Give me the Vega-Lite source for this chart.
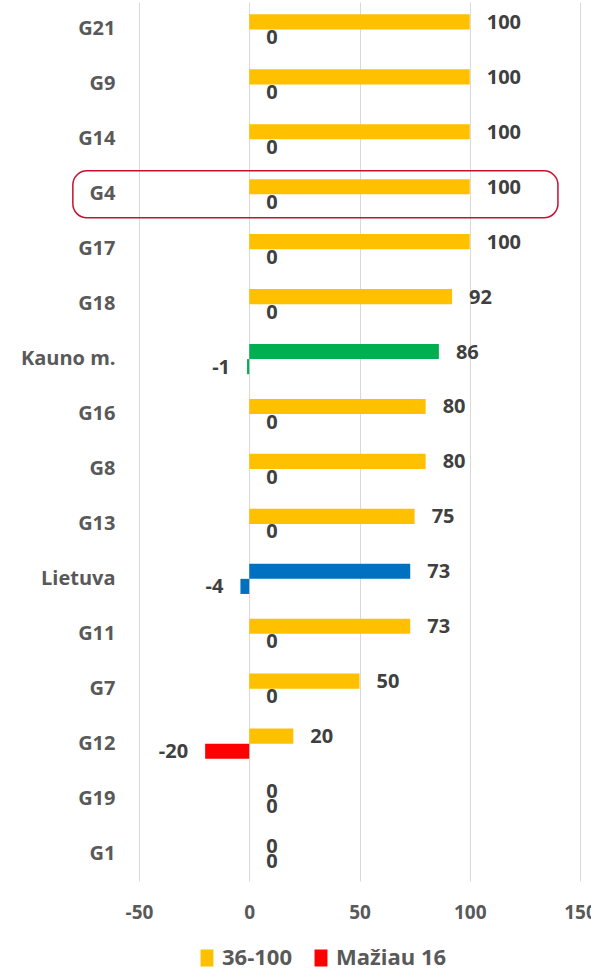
{
  "$schema": "https://vega.github.io/schema/vega-lite/v6.json",
  "autosize": "none",
  "width": 441,
  "height": 879,
  "padding": {"left": 139, "top": 2, "right": 11, "bottom": 88},
  "background": "white",
  "config": {
    "view": {"stroke": null},
    "font": "Open Sans"
  },
  "data": {
    "values": [
      {"cat": "G21", "series": "36-100", "value": 100},
      {"cat": "G21", "series": "Mažiau 16", "value": 0},
      {"cat": "G9", "series": "36-100", "value": 100},
      {"cat": "G9", "series": "Mažiau 16", "value": 0},
      {"cat": "G14", "series": "36-100", "value": 100},
      {"cat": "G14", "series": "Mažiau 16", "value": 0},
      {"cat": "G4", "series": "36-100", "value": 100},
      {"cat": "G4", "series": "Mažiau 16", "value": 0},
      {"cat": "G17", "series": "36-100", "value": 100},
      {"cat": "G17", "series": "Mažiau 16", "value": 0},
      {"cat": "G18", "series": "36-100", "value": 92},
      {"cat": "G18", "series": "Mažiau 16", "value": 0},
      {"cat": "Kauno m.", "series": "36-100", "value": 86},
      {"cat": "Kauno m.", "series": "Mažiau 16", "value": -1},
      {"cat": "G16", "series": "36-100", "value": 80},
      {"cat": "G16", "series": "Mažiau 16", "value": 0},
      {"cat": "G8", "series": "36-100", "value": 80},
      {"cat": "G8", "series": "Mažiau 16", "value": 0},
      {"cat": "G13", "series": "36-100", "value": 75},
      {"cat": "G13", "series": "Mažiau 16", "value": 0},
      {"cat": "Lietuva", "series": "36-100", "value": 73},
      {"cat": "Lietuva", "series": "Mažiau 16", "value": -4},
      {"cat": "G11", "series": "36-100", "value": 73},
      {"cat": "G11", "series": "Mažiau 16", "value": 0},
      {"cat": "G7", "series": "36-100", "value": 50},
      {"cat": "G7", "series": "Mažiau 16", "value": 0},
      {"cat": "G12", "series": "36-100", "value": 20},
      {"cat": "G12", "series": "Mažiau 16", "value": -20},
      {"cat": "G19", "series": "36-100", "value": 0},
      {"cat": "G19", "series": "Mažiau 16", "value": 0},
      {"cat": "G1", "series": "36-100", "value": 0},
      {"cat": "G1", "series": "Mažiau 16", "value": 0}
    ]
  },
  "transform": [
    {"calculate": "datum.cat == 'Kauno m.' || datum.cat == 'Lietuva' ? datum.cat : datum.series", "as": "grp"}
  ],
  "encoding": {
    "y": {
      "field": "cat",
      "type": "nominal",
      "sort": null,
      "scale": {"paddingInner": 0.45, "paddingOuter": 0.225},
      "axis": {
        "title": null,
        "domain": false,
        "ticks": false,
        "labelPadding": 24,
        "labelFontSize": 20,
        "labelFontWeight": "bold",
        "labelColor": "#595959",
        "labelFont": "Open Sans"
      }
    }
  },
  "layer": [
    {
      "mark": {"type": "bar"},
      "encoding": {
        "x": {
          "field": "value",
          "type": "quantitative",
          "scale": {"domain": [-50, 150], "nice": false},
          "axis": {
            "title": null,
            "values": [-50, 0, 50, 100, 150],
            "labelExpr": "toString(datum.value)",
            "domain": false,
            "ticks": false,
            "grid": true,
            "gridColor": "#d9d9d9",
            "gridWidth": 1,
            "labelPadding": 22,
            "labelFontSize": 19,
            "labelFontWeight": "bold",
            "labelColor": "#595959",
            "labelFont": "Open Sans",
            "labelFlush": false
          }
        },
        "yOffset": {"field": "series", "type": "nominal", "sort": ["36-100", "Mažiau 16"]},
        "color": {
          "field": "grp",
          "type": "nominal",
          "scale": {
            "domain": ["36-100", "Mažiau 16", "Kauno m.", "Lietuva"],
            "range": ["#FFC000", "#FF0000", "#00B050", "#0070C0"]
          },
          "legend": {
            "values": ["36-100", "Mažiau 16"],
            "title": null,
            "orient": "none",
            "direction": "horizontal",
            "legendX": 57,
            "legendY": 945,
            "symbolType": "M-0.76,-1H0.76V1H-0.76Z",
            "symbolSize": 289,
            "symbolStrokeWidth": 0,
            "symbolOpacity": 1,
            "labelFontSize": 22,
            "labelFontWeight": "bold",
            "labelColor": "#595959",
            "labelFont": "Open Sans",
            "columnPadding": 18,
            "labelOffset": 4
          }
        }
      }
    },
    {
      "transform": [{"filter": "datum.value >= 0"}],
      "mark": {"type": "text", "align": "left", "dx": 17, "dy": 1, "fontSize": 20, "fontWeight": "bold", "color": "#404040", "font": "Open Sans"},
      "encoding": {
        "x": {"field": "value", "type": "quantitative"},
        "yOffset": {"field": "series", "type": "nominal", "sort": ["36-100", "Mažiau 16"]},
        "text": {"field": "value", "type": "nominal"}
      }
    },
    {
      "transform": [{"filter": "datum.value < 0"}],
      "mark": {"type": "text", "align": "right", "dx": -17, "dy": 1, "fontSize": 20, "fontWeight": "bold", "color": "#404040", "font": "Open Sans"},
      "encoding": {
        "x": {"field": "value", "type": "quantitative"},
        "yOffset": {"field": "series", "type": "nominal", "sort": ["36-100", "Mažiau 16"]},
        "text": {"field": "value", "type": "nominal"}
      }
    },
    {
      "transform": [{"filter": "datum.cat == 'G4' && datum.series == '36-100'"}],
      "mark": {"type": "rect", "filled": false, "stroke": "#C8102E", "strokeWidth": 1.5, "cornerRadius": 14, "height": {"band": 1.55}},
      "encoding": {
        "x": {"datum": -80},
        "x2": {"datum": 140}
      }
    }
  ]
}
